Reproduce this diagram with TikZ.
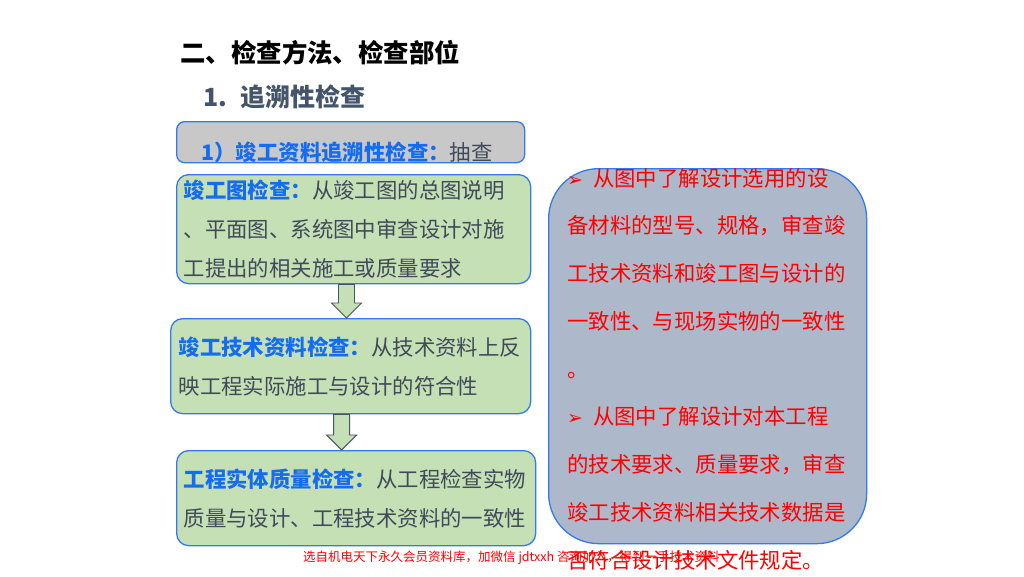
\documentclass[tikz,border=0pt]{standalone}
\usepackage{fontspec}
\setmainfont{Noto Sans CJK SC}
\newfontfamily\symfont{DejaVu Sans}
\usetikzlibrary{calc}
\definecolor{boxgreen}{RGB}{197,224,180}
\definecolor{boxgray}{RGB}{200,200,200}
\definecolor{boxslate}{RGB}{173,185,202}
\definecolor{edgeblue}{RGB}{51,122,240}
\definecolor{keyblue}{RGB}{20,108,240}
\definecolor{bodygray}{RGB}{64,74,90}
\definecolor{headgray}{RGB}{68,84,106}
\colorlet{notered}{red}

\tikzset{
  stepbox/.style={draw=edgeblue, line width=1.3pt, fill=boxgreen, rounded corners=12pt,
    anchor=north west, align=left, inner xsep=7pt, inner ysep=0pt, text=bodygray,
    font=\fontsize{21.4}{39}\selectfont},
  arrowshape/.style={draw=headgray, line width=0.9pt, fill=boxgreen}
}
\newcommand{\kw}[1]{{\bfseries\color{keyblue}#1}}
\newcommand{\bul}{{\symfont\fontsize{19}{19}\selectfont ➢}\hspace{10pt}}
\newcommand{\flowarrow}[2]{% #1 on the upper box, #2 tip on the lower box
  \draw[arrowshape] ($(#1)+(-8,0)$) -- ($(#2)+(-8,-15)$) -- ($(#2)+(-15,-15)$) -- (#2)
    -- ($(#2)+(15,-15)$) -- ($(#2)+(8,-15)$) -- ($(#1)+(8,0)$) -- cycle;}

\begin{document}
\begin{tikzpicture}[x=1pt, y=-1pt]
  \useasboundingbox[fill=white] (0,0) rectangle (1024,576);

  % headings
  \node[anchor=base west, font=\fontsize{25.4}{25.4}\selectfont\bfseries] (title) at (177,62.5)
    {二、检查方法、检查部位};
  \node[anchor=base west, text=headgray, font=\fontsize{25}{25}\selectfont\bfseries] (sub) at (200,106.5)
    {1.\hspace{13pt}追溯性检查};

  % gray strip
  \node[draw=edgeblue, line width=1.3pt, fill=boxgray, rounded corners=8pt, anchor=north west,
    minimum width=348pt, minimum height=41pt, inner sep=0pt] (strip) at (176,121) {};
  \node[anchor=base west, text=bodygray, font=\fontsize{21.4}{21.4}\selectfont] (striptext) at (198,160)
    {\kw{1）竣工资料追溯性检查：}抽查};

  % left column
  \node[stepbox, minimum width=354pt, minimum height=109pt, text width=340pt] (b1) at (176,174)
    {\kw{竣工图检查：}从竣工图的总图说明\\、平面图、系统图中审查设计对施\\工提出的相关施工或质量要求};
  \node[stepbox, inner xsep=8pt, minimum width=360pt, minimum height=95pt, text width=344pt] (b2) at (170,318)
    {\kw{竣工技术资料检查：}从技术资料上反\\映工程实际施工与设计的符合性};
  \node[stepbox, minimum width=359pt, minimum height=95pt, text width=345pt] (b3) at (176,450)
    {\kw{工程实体质量检查：}从工程检查实物\\质量与设计、工程技术资料的一致性};

  \coordinate (a1s) at ($(b1.south west)!0.48!(b1.south east)$);
  \coordinate (a1e) at (b2.north -| a1s);
  \coordinate (a2s) at ($(b2.south west)!0.475!(b2.south east)$);
  \coordinate (a2e) at (b3.north -| a2s);
  \flowarrow{a1s}{a1e}
  \flowarrow{a2s}{a2e}

  % right panel
  \node[draw=edgeblue, line width=1.3pt, fill=boxslate, rounded corners=50pt, anchor=north west,
    minimum width=318pt, minimum height=375pt, inner sep=0pt] (panel) at (548,168) {};

  % watermark
  \node[anchor=base west, text=notered, font=\fontsize{12.5}{12.5}\selectfont, inner sep=0pt] (mark) at (303,561)
    {选自机电天下永久会员资料库，加微信 jdtxxh 咨询加入，得到一手技术资料};

  \node[anchor=west, align=left, text=notered, inner sep=0pt,
    font=\fontsize{21.4}{47.75}\selectfont] (paneltext) at (567,369)
    {\bul 从图中了解设计选用的设\\
     备材料的型号、规格，审查竣\\
     工技术资料和竣工图与设计的\\
     一致性、与现场实物的一致性\\
     。\\
     \bul 从图中了解设计对本工程\\
     的技术要求、质量要求，审查\\
     竣工技术资料相关技术数据是\\
     否符合设计技术文件规定。};
\end{tikzpicture}
\end{document}
